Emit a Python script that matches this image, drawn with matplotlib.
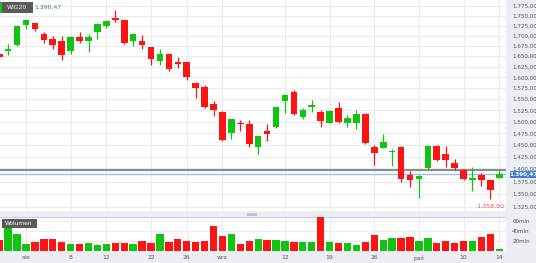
import matplotlib
matplotlib.use("Agg")
import matplotlib.pyplot as plt
from matplotlib.patches import Rectangle
from matplotlib.ticker import FixedLocator, NullLocator, NullFormatter

W, H = 536, 263

opens = [1655,1662,1676,1727,1731,1704,1692,1686,1663,1697,1686,1708,1723,1743,1738,1687,1687,1671,1639,1656,
         1635,1635,1586,1578,1539,1521,1476,1497,1495,1446,1481,1488,1546,1567,1511,1532,1522,1498,1530,1497,
         1498,1518,1446,1443,1435,1446,1389,1380,1402,1449,1431,1413,1398,1379,1388,1378,1383]
closes = [1647,1667,1723,1738,1717,1690,1676,1652,1697,1686,1696,1728,1736,1740,1682,1703,1676,1643,1656,1619,
          1632,1601,1575,1533,1526,1461,1505,1494,1452,1469,1473,1533,1560,1518,1526,1537,1502,1524,1499,1509,
          1518,1455,1433,1457,1438,1380,1378,1387,1449,1418,1418,1403,1380,1382,1378,1358,1390]
highs = [1658,1680,1725,1740,1732,1710,1700,1699,1698,1709,1705,1729,1737,1764,1740,1706,1701,1672,1667,1657,
         1648,1636,1588,1582,1547,1523,1507,1504,1504,1471,1494,1534,1561,1571,1530,1548,1526,1525,1543,1514,
         1525,1520,1450,1473,1441,1447,1397,1388,1450,1450,1449,1421,1400,1404,1392,1379,1399]
lows = [1644,1652,1675,1717,1711,1682,1668,1642,1655,1683,1661,1692,1719,1733,1680,1674,1668,1630,1630,1615,
        1622,1594,1552,1530,1512,1459,1463,1480,1446,1431,1458,1487,1519,1514,1506,1522,1488,1497,1497,1488,
        1485,1452,1409,1443,1406,1374,1365,1342,1401,1417,1405,1398,1379,1357,1367,1340,1382]
volumes = [21.7,44.7,33.5,13.8,17,23,24,17,13.8,14.4,16.4,12.4,13,16.4,16.4,13.8,19,15,33.5,18.4,
           23,19,18.4,19.7,49,30,33.5,13.8,20,23.6,21.7,21.7,19.7,17,17,18.4,67.6,17,15,15,
           12.4,17,31.5,21.7,25,26.2,28.2,19.7,25,16.4,19.7,16.4,19.7,19,28.2,32.8,4]

tick_idx = [3, 8, 12, 17, 21, 25, 32, 37, 42, 47, 52, 56]
tick_labels = ['sie', '8', '12', '22', '26', 'wrz', '12', '19', '26', 'paź', '10', '14']
price_ticks = [1325, 1350, 1375, 1400, 1425, 1450, 1475, 1500, 1525, 1550, 1575, 1600,
               1625, 1650, 1675, 1700, 1725, 1750, 1775]
vol_ticks = [20, 40, 60]
last_price = 1390.47
ref_line = 1399
min_label = "1.358,50"

GREEN = '#12c412'
RED = '#ff1414'
GRID = '#ececec'
STRIP = '#eceef3'
TXT = '#555555'


def fmt_price(v):
    s = f"{v:,.2f}"
    return s.replace(",", "X").replace(".", ",").replace("X", ".")


def fx(x):
    return x / W


def fy(y):
    return 1 - y / H


fig = plt.figure(figsize=(W / 100, H / 100), dpi=100)
fig.patch.set_facecolor('white')

# background strips (behind everything)
for rect in [
    (fx(506), 0, 1 - fx(506), 1),
    (0, 0, 1, fy(251)),
    (0, fy(217), fx(506), fy(211) - fy(217)),
]:
    fig.patches.append(Rectangle(rect[:2], rect[2], rect[3], transform=fig.transFigure,
                                 facecolor=STRIP, edgecolor='none', zorder=-5))

xl = (3 - 26 / 8.93, 3 + 480 / 8.93)
n = len(opens)
idx = list(range(n))
colors = [GREEN if c >= o else RED for o, c in zip(opens, closes)]

# main price axes
ax = fig.add_axes([0, fy(211), fx(506), fy(0) - fy(211)])
ax.set_facecolor('white')
ax.set_yscale('log')
ax.set_ylim(1317.4, 1790.5)
ax.set_xlim(*xl)
for s in ax.spines.values():
    s.set_visible(False)
ax.yaxis.set_major_locator(FixedLocator(price_ticks))
ax.yaxis.set_minor_locator(NullLocator())
ax.yaxis.set_minor_formatter(NullFormatter())
ax.set_yticklabels([fmt_price(v) for v in price_ticks])
ax.yaxis.tick_right()
ax.tick_params(axis='y', length=0, pad=4.5, labelsize=4.1, labelcolor=TXT)
ax.set_xticks(tick_idx)
ax.tick_params(axis='x', length=0, labelbottom=False)
ax.grid(True, color=GRID, linewidth=0.8)
ax.set_axisbelow(True)

ax.vlines(idx, lows, highs, colors=colors, linewidth=0.9, zorder=3)
bottoms = [min(o, c) for o, c in zip(opens, closes)]
heights = [max(abs(c - o), 0.8) for o, c in zip(opens, closes)]
ax.bar(idx, heights, bottom=bottoms, width=0.74, color=colors, edgecolor='none', zorder=4)

ax.axhline(ref_line, color='#8c8c8c', linewidth=1.6, zorder=2)
ax.axhline(last_price, color='#9dbfe8', linewidth=1.0, zorder=2)

# volume axes
axv = fig.add_axes([0, fy(251), fx(506), fy(217) - fy(251)])
axv.set_facecolor('white')
axv.set_xlim(*xl)
axv.set_ylim(0, 67)
for s in axv.spines.values():
    s.set_visible(False)
axv.spines['top'].set_visible(True)
axv.spines['top'].set_color('#cfd1d6')
axv.spines['top'].set_linewidth(0.8)
axv.set_yticks(vol_ticks)
axv.set_yticklabels([f"{v}mln" for v in vol_ticks])
axv.yaxis.tick_right()
axv.tick_params(axis='y', length=0, pad=4.5, labelsize=4.1, labelcolor=TXT)
axv.set_xticks(tick_idx)
axv.set_xticklabels(tick_labels)
axv.tick_params(axis='x', length=0, pad=3.0, labelsize=4.4, labelcolor=TXT)
axv.grid(True, color=GRID, linewidth=0.8)
axv.set_axisbelow(True)
axv.bar(idx, volumes, width=0.82, color=colors, edgecolor='none', zorder=3)

# overlays (figure level)
fig.patches.append(Rectangle((fx(247), fy(215.5)), fx(10), fy(212.5) - fy(215.5), transform=fig.transFigure,
                             facecolor='#c4c6cc', edgecolor='none', zorder=5))
fig.patches.append(Rectangle((fx(510), fy(177.5)), fx(26), fy(170.5) - fy(177.5), transform=fig.transFigure,
                             facecolor='#3d7fd6', edgecolor='none', zorder=5))
fig.text(fx(523), fy(174.2), fmt_price(last_price), color='white', fontsize=4.1,
         ha='center', va='center', zorder=6, fontweight='bold')
fig.text(fx(490), fy(206), min_label, color='#f05050', fontsize=4.6, ha='center', va='center', zorder=6)

fig.patches.append(Rectangle((fx(0), fy(12.5)), fx(2), fy(2) - fy(12.5), transform=fig.transFigure,
                             facecolor='#22bb22', edgecolor='none', zorder=6))
fig.patches.append(Rectangle((fx(2), fy(12.5)), fx(31), fy(2) - fy(12.5), transform=fig.transFigure,
                             facecolor='#5a5a5a', edgecolor='none', zorder=6))
fig.text(fx(7), fy(7.5), 'WIG20', color='white', fontsize=4.4, ha='left', va='center', zorder=7)
fig.text(fx(34.5), fy(7.5), fmt_price(last_price), color='#2a9a2a', fontsize=4.4,
         ha='left', va='center', zorder=7)

fig.patches.append(Rectangle((fx(2), fy(227.5)), fx(35), fy(219) - fy(227.5), transform=fig.transFigure,
                             facecolor='#5a5a5a', edgecolor='none', zorder=6))
fig.text(fx(5), fy(223.2), 'Wolumen', color='white', fontsize=4.2, ha='left', va='center', zorder=7)

fig.savefig('out.png', dpi=100, facecolor=fig.get_facecolor())
